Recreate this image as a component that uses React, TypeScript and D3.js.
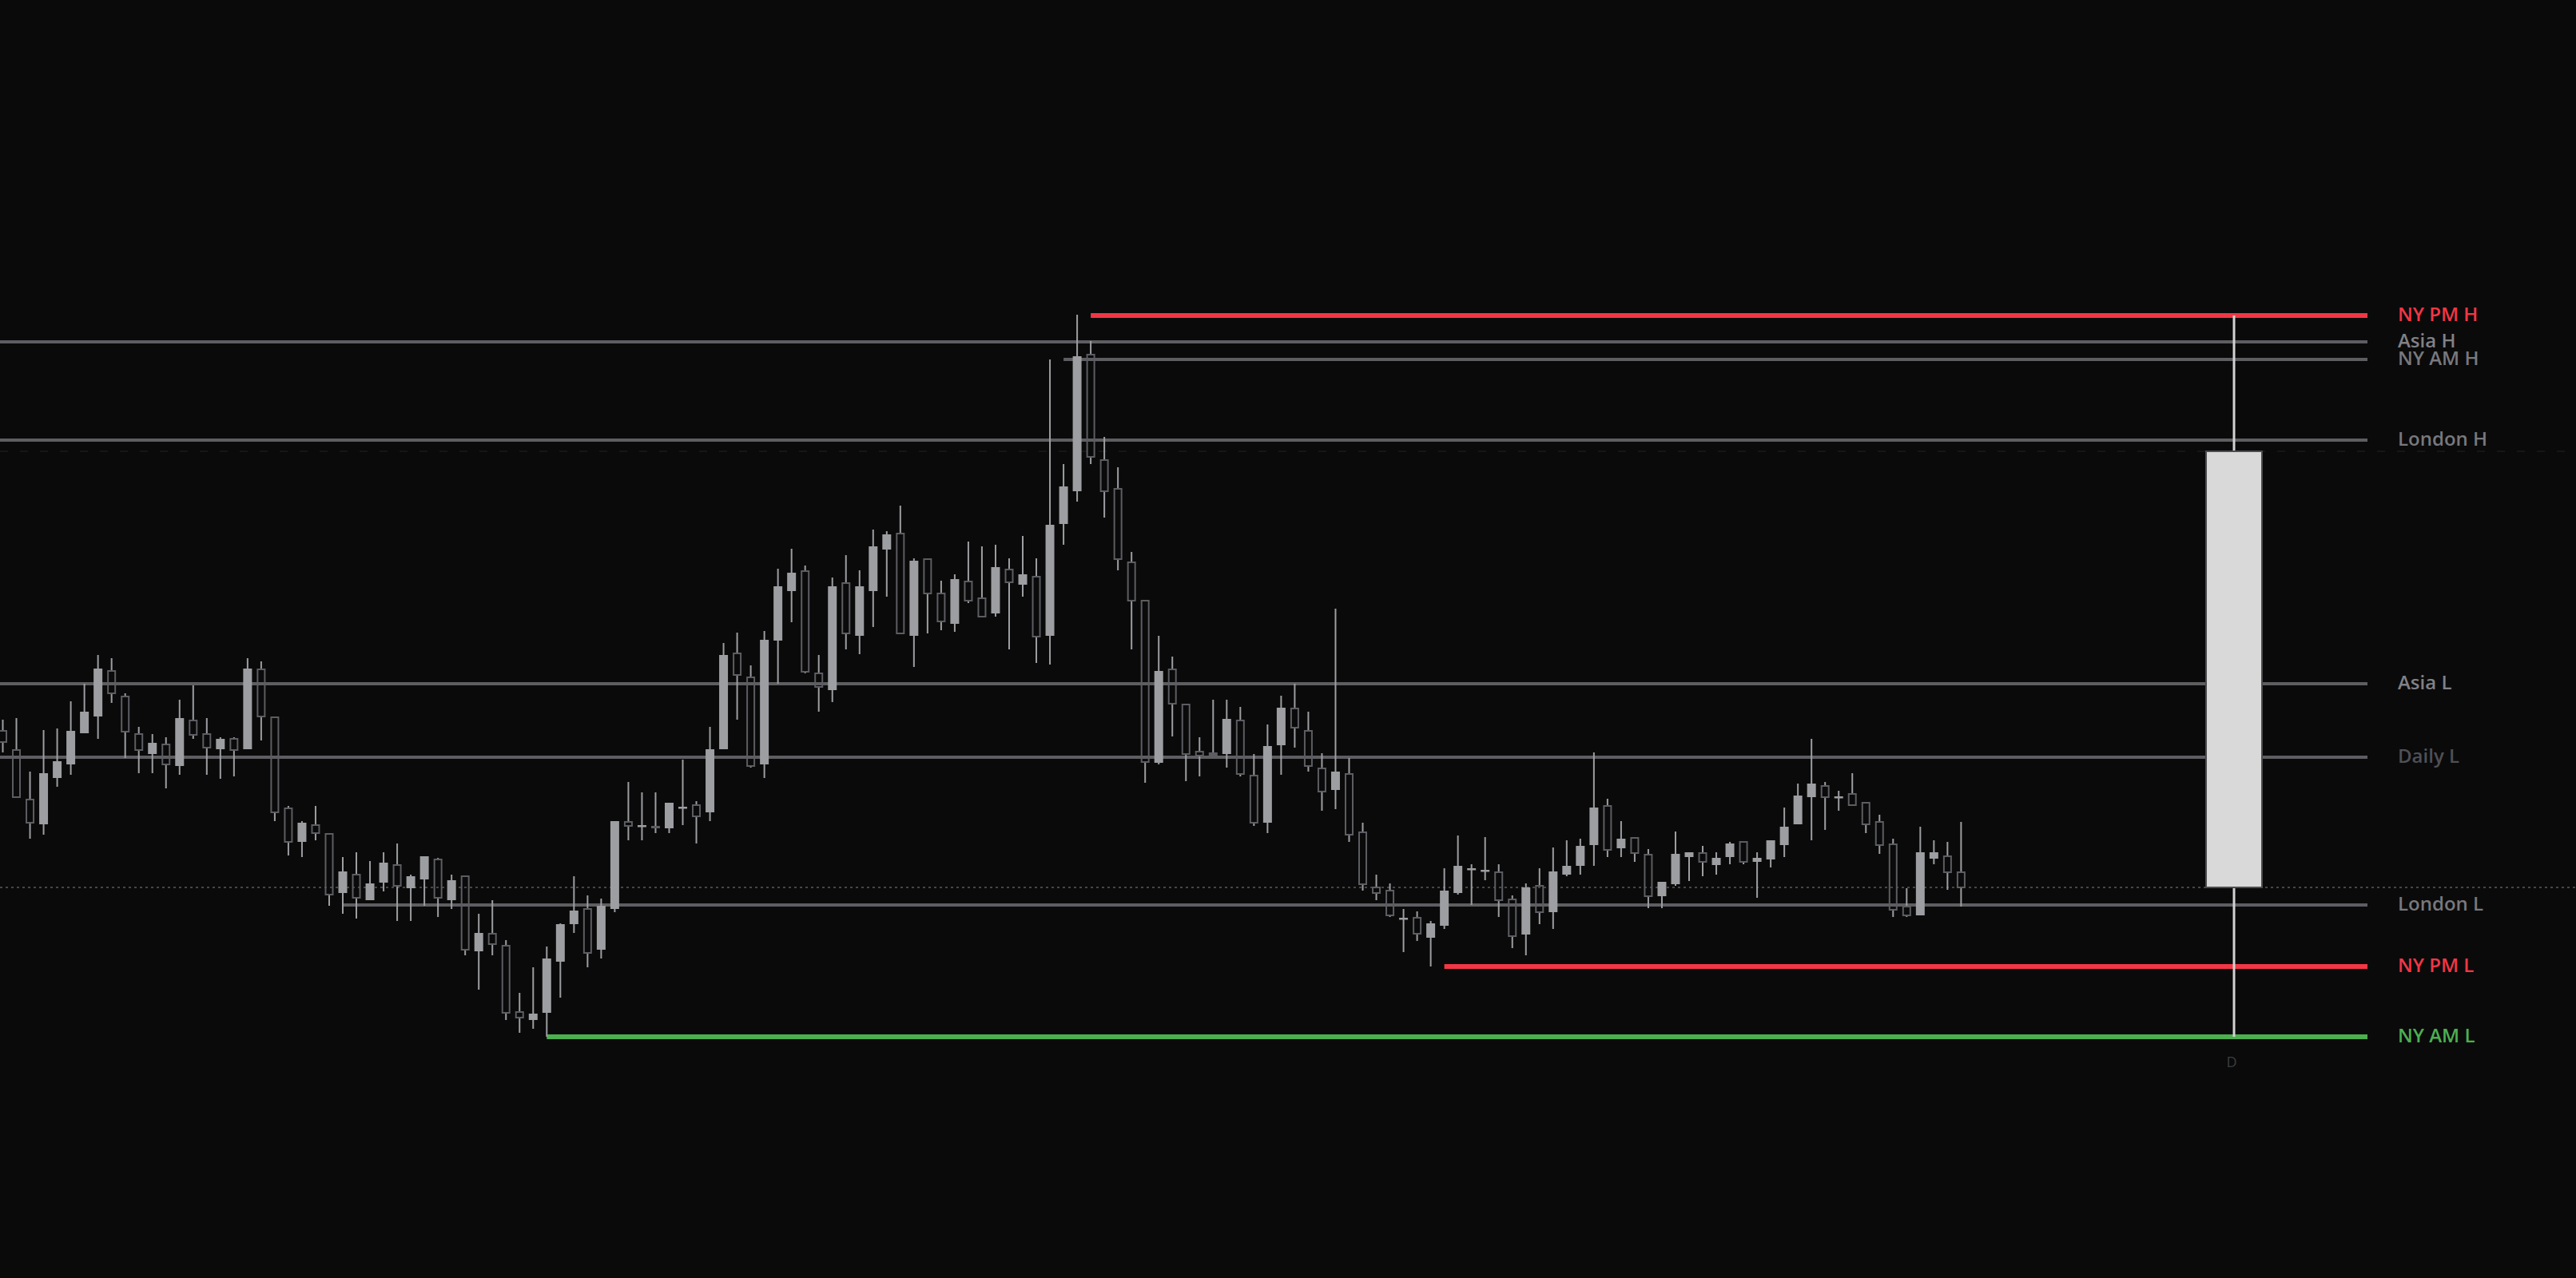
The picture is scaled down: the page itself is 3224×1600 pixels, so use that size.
import React from 'react';
import * as d3 from 'd3';

// ---- Intraday bars (price units) ----
const opens = [
  68.5, 66.1, 59.9, 56.8, 62.6, 64.3, 68.2, 70.3, 76.0, 72.8,
  68.1, 65.6, 66.8, 64.1, 69.8, 68.1, 66.2, 67.5, 66.2, 76.2,
  70.2, 58.8, 54.6, 56.7, 55.6, 48.2, 50.5, 47.3, 49.5, 51.7,
  48.8, 49.9, 52.4, 47.3, 50.3, 40.9, 43.1, 41.6, 33.3, 32.3,
  33.2, 39.6, 44.3, 46.2, 41.1, 46.2, 57.1, 56.6, 56.5, 56.3,
  58.9, 59.2, 58.3, 66.2, 78.2, 75.2, 64.3, 79.8, 86.0, 88.5,
  75.7, 73.6, 87.0, 80.4, 86.0, 91.2, 93.2, 80.4, 90.0, 85.7,
  81.9, 87.2, 85.1, 83.2, 88.7, 86.8, 87.8, 80.4, 94.4, 98.5,
  115.6, 102.4, 98.8, 89.6, 84.8, 64.5, 76.2, 71.8, 65.9, 65.7,
  65.6, 69.8, 62.9, 57.0, 66.7, 71.3, 68.5, 63.8, 61.1, 63.1,
  55.8, 48.9, 48.5, 45.0, 45.1, 42.6, 44.1, 48.2, 51.2, 51.0,
  50.8, 47.4, 43.0, 49.1, 45.8, 50.5, 51.6, 54.2, 59.1, 53.8,
  55.1, 53.0, 47.8, 49.3, 52.7, 53.2, 51.7, 52.7, 54.6, 52.1,
  52.4, 54.2, 56.8, 60.2, 61.6, 60.2, 60.6, 59.5, 57.1, 54.3,
  46.5, 45.4, 52.5, 52.8, 50.8,
];
const highs = [
  69.9, 70.1, 63.4, 68.6, 68.8, 72.2, 74.4, 78.0, 77.6, 73.2,
  69.0, 68.1, 67.7, 72.4, 74.2, 70.1, 67.7, 67.7, 77.6, 77.2,
  70.2, 59.1, 57.2, 59.1, 55.6, 52.7, 53.3, 52.2, 53.3, 54.4,
  50.5, 52.8, 52.6, 50.5, 50.3, 45.6, 47.3, 42.3, 35.7, 38.9,
  41.5, 44.4, 50.3, 47.9, 47.5, 57.2, 62.1, 60.8, 60.8, 59.5,
  64.9, 59.7, 69.0, 79.5, 80.8, 76.7, 81.0, 88.8, 91.3, 89.2,
  78.0, 87.7, 90.5, 88.6, 93.7, 93.5, 96.7, 90.1, 90.0, 87.3,
  88.1, 92.2, 91.6, 91.8, 90.1, 92.9, 90.1, 115.0, 101.9, 120.6,
  117.3, 105.3, 101.5, 90.9, 84.8, 80.4, 77.8, 71.9, 67.7, 72.4,
  72.4, 71.5, 65.6, 69.3, 72.9, 74.4, 70.9, 65.7, 83.8, 65.1,
  57.0, 50.5, 49.4, 46.2, 45.9, 44.7, 51.3, 55.4, 51.8, 55.2,
  51.8, 47.9, 49.4, 51.3, 53.9, 54.8, 55.0, 65.8, 60.0, 57.2,
  55.1, 53.7, 49.6, 55.9, 53.3, 54.1, 53.3, 54.6, 54.6, 53.3,
  54.8, 58.9, 61.9, 67.5, 62.1, 61.0, 63.2, 59.5, 58.0, 55.0,
  48.8, 56.5, 54.8, 54.6, 57.1,
];
const lows = [
  65.8, 60.2, 55.0, 55.5, 61.5, 63.0, 68.2, 67.5, 72.0, 65.1,
  63.2, 63.2, 61.3, 63.0, 67.5, 63.0, 62.5, 62.8, 66.2, 67.3,
  57.2, 52.9, 52.7, 54.8, 46.6, 45.6, 45.0, 47.3, 48.4, 44.7,
  44.7, 46.6, 45.2, 46.2, 40.4, 36.1, 40.4, 32.3, 30.7, 31.2,
  30.2, 35.1, 43.2, 38.9, 40.0, 45.8, 54.8, 54.8, 55.7, 55.7,
  56.7, 54.4, 57.2, 66.2, 69.9, 63.9, 62.6, 74.4, 82.1, 75.7,
  70.9, 72.1, 78.7, 78.1, 81.5, 85.3, 80.7, 76.5, 80.7, 81.1,
  80.9, 84.5, 82.8, 82.8, 78.7, 85.3, 77.0, 76.8, 91.8, 97.2,
  101.9, 95.2, 88.6, 78.7, 62.0, 64.3, 67.8, 62.2, 62.8, 65.4,
  63.9, 62.8, 56.6, 55.7, 63.0, 66.4, 63.4, 58.5, 58.7, 54.6,
  48.5, 47.3, 45.2, 40.8, 42.2, 39.0, 43.7, 48.0, 46.7, 49.8,
  45.2, 41.3, 40.4, 44.3, 43.7, 50.3, 50.5, 51.6, 52.7, 52.7,
  52.1, 46.3, 46.3, 49.1, 49.7, 50.3, 50.5, 51.8, 51.8, 47.6,
  51.4, 52.7, 56.8, 54.8, 56.1, 58.5, 59.2, 55.7, 53.1, 45.2,
  45.2, 45.4, 51.8, 48.6, 46.5,
];
const closes = [
  67.1, 60.2, 57.0, 63.2, 64.7, 68.5, 70.9, 76.3, 73.2, 68.4,
  66.1, 67.0, 64.3, 70.1, 68.0, 66.4, 67.5, 66.1, 76.3, 70.3,
  58.3, 54.6, 57.0, 55.7, 48.0, 50.9, 47.6, 49.4, 52.0, 49.1,
  50.3, 52.8, 47.6, 49.8, 41.1, 43.2, 41.8, 33.2, 32.6, 33.1,
  40.0, 44.3, 46.0, 40.7, 46.6, 57.2, 56.6, 56.7, 56.4, 59.5,
  59.0, 57.8, 66.2, 78.0, 75.5, 64.1, 79.9, 86.6, 88.3, 75.9,
  74.0, 86.6, 80.7, 86.6, 91.6, 93.1, 80.7, 89.8, 85.7, 82.2,
  87.5, 84.8, 82.8, 89.0, 87.1, 88.1, 80.3, 94.3, 99.1, 115.4,
  102.8, 98.5, 90.0, 84.8, 64.6, 76.0, 71.9, 65.6, 65.4, 65.5,
  70.0, 63.1, 57.0, 66.6, 71.4, 68.9, 64.1, 60.9, 63.4, 55.5,
  49.3, 48.2, 45.4, 45.1, 43.1, 44.4, 48.5, 51.6, 51.3, 51.1,
  47.3, 42.8, 48.9, 45.8, 50.9, 51.6, 54.1, 58.9, 53.6, 55.0,
  53.2, 47.8, 49.6, 53.1, 53.3, 52.1, 52.6, 54.4, 52.1, 52.6,
  54.8, 56.5, 60.4, 61.9, 60.2, 60.3, 59.2, 56.8, 54.2, 46.1,
  45.4, 53.3, 53.3, 50.8, 48.9,
];

// ---- Session levels ----
const levelNames = ['NY PM H', 'Asia H', 'NY AM H', 'London H', 'Asia L', 'Daily L', 'London L', 'NY PM L', 'NY AM L'];
const levelPrices = [120.5, 117.2, 115.0, 104.9, 74.4, 65.2, 46.7, 39.0, 30.2];
const levelStartBars = [80, -1, 78, -1, -1, -1, 25, 106, 40]; // -1: from left edge
const levelKinds = ['pm', 'asia', 'gray', 'gray', 'asia', 'daily', 'gray', 'pm', 'am'];

// ---- Daily (higher timeframe) candle ----
const dailyOpen = 103.5;
const dailyHigh = 120.5;
const dailyLow = 30.2;
const dailyClose = 48.9;
const dailyLabel = 'D';

const W = 3224;
const H = 1600;

const lineColor: Record<string, string> = {
  pm: '#f23645',
  am: '#4caf50',
  gray: '#5e5e62',
  asia: '#5e5e62',
  daily: '#5e5e62',
};
const textColor: Record<string, string> = {
  pm: '#f23645',
  am: '#4caf50',
  gray: '#78787d',
  asia: '#818186',
  daily: '#505055',
};
const lineWidth: Record<string, number> = { pm: 6, am: 6, gray: 4, asia: 4, daily: 4 };

export default function App() {
  const n = opens.length;
  const x = d3.scaleLinear().domain([0, n - 1]).range([3.5, 2454.4]);
  const y = d3.scaleLinear().domain([0, 160]).range([H, 0]);

  const bodyW = 11;
  const lineEnd = 2963;
  const labelX = 3001;
  const dailyX = 2796;
  const dailyW = 70;

  const bars = d3.range(n).map((i) => ({
    i,
    o: opens[i],
    h: highs[i],
    l: lows[i],
    c: closes[i],
  }));

  return (
    <svg
      width={W}
      height={H}
      style={{ position: 'absolute', left: 0, top: 0, display: 'block' }}
      fontFamily="'Open Sans', 'Noto Sans', sans-serif"
    >
      <rect x={0} y={0} width={W} height={H} fill="#0a0a0a" />

      {/* daily open (very faint) and last price dotted lines */}
      <line x1={0} x2={W} y1={y(dailyOpen)} y2={y(dailyOpen)} stroke="#1b1b1d" strokeWidth={1.5} strokeDasharray="10 15" />
      <line x1={0} x2={W} y1={y(dailyClose)} y2={y(dailyClose)} stroke="#46464a" strokeWidth={2} strokeDasharray="3 4" />

      {/* level lines */}
      {levelNames.map((name, k) => {
        const kind = levelKinds[k];
        const sx = levelStartBars[k] < 0 ? 0 : x(levelStartBars[k]);
        return (
          <line
            key={name}
            x1={sx}
            x2={lineEnd}
            y1={y(levelPrices[k])}
            y2={y(levelPrices[k])}
            stroke={lineColor[kind]}
            strokeWidth={lineWidth[kind]}
          />
        );
      })}

      {/* candles */}
      {bars.map((b) => {
        const up = b.c >= b.o;
        const cx = x(b.i);
        const top = y(Math.max(b.o, b.c));
        const bot = y(Math.min(b.o, b.c));
        if (up) {
          const hgt = Math.max(bot - top, 2.5);
          return (
            <g key={b.i}>
              <line x1={cx} x2={cx} y1={y(b.h)} y2={y(b.l)} stroke="#9d9ea2" strokeWidth={2} />
              <rect x={cx - bodyW / 2} y={top} width={bodyW} height={hgt} fill="#9d9ea2" />
            </g>
          );
        }
        const hgt = Math.max(bot - top, 1);
        return (
          <g key={b.i}>
            <line x1={cx} x2={cx} y1={y(b.h)} y2={top} stroke="#9d9ea2" strokeWidth={2} />
            <line x1={cx} x2={cx} y1={bot} y2={y(b.l)} stroke="#9d9ea2" strokeWidth={2} />
            <rect
              x={cx - bodyW / 2 + 1}
              y={top}
              width={bodyW - 2}
              height={hgt}
              fill="none"
              stroke="#5c5d62"
              strokeWidth={2}
            />
          </g>
        );
      })}

      {/* daily candle */}
      <line x1={dailyX} x2={dailyX} y1={y(dailyHigh)} y2={y(dailyLow)} stroke="#d2d2d2" strokeWidth={3} />
      <rect
        x={dailyX - dailyW / 2}
        y={y(Math.max(dailyOpen, dailyClose))}
        width={dailyW}
        height={y(Math.min(dailyOpen, dailyClose)) - y(Math.max(dailyOpen, dailyClose))}
        fill="#d9d9d9"
        stroke="#4c4c50"
        strokeWidth={2}
      />
      <text
        x={dailyX - 3}
        y={y(dailyLow) + 33}
        fill="#3c3c40"
        fontSize={18}
        textAnchor="middle"
        dominantBaseline="middle"
      >
        {dailyLabel}
      </text>

      {/* level labels */}
      {levelNames.map((name, k) => (
        <text
          key={'t' + name}
          x={labelX}
          y={y(levelPrices[k]) + 1}
          fill={textColor[levelKinds[k]]}
          fontSize={24}
          fontWeight={600}
          dominantBaseline="middle"
        >
          {name}
        </text>
      ))}
    </svg>
  );
}
